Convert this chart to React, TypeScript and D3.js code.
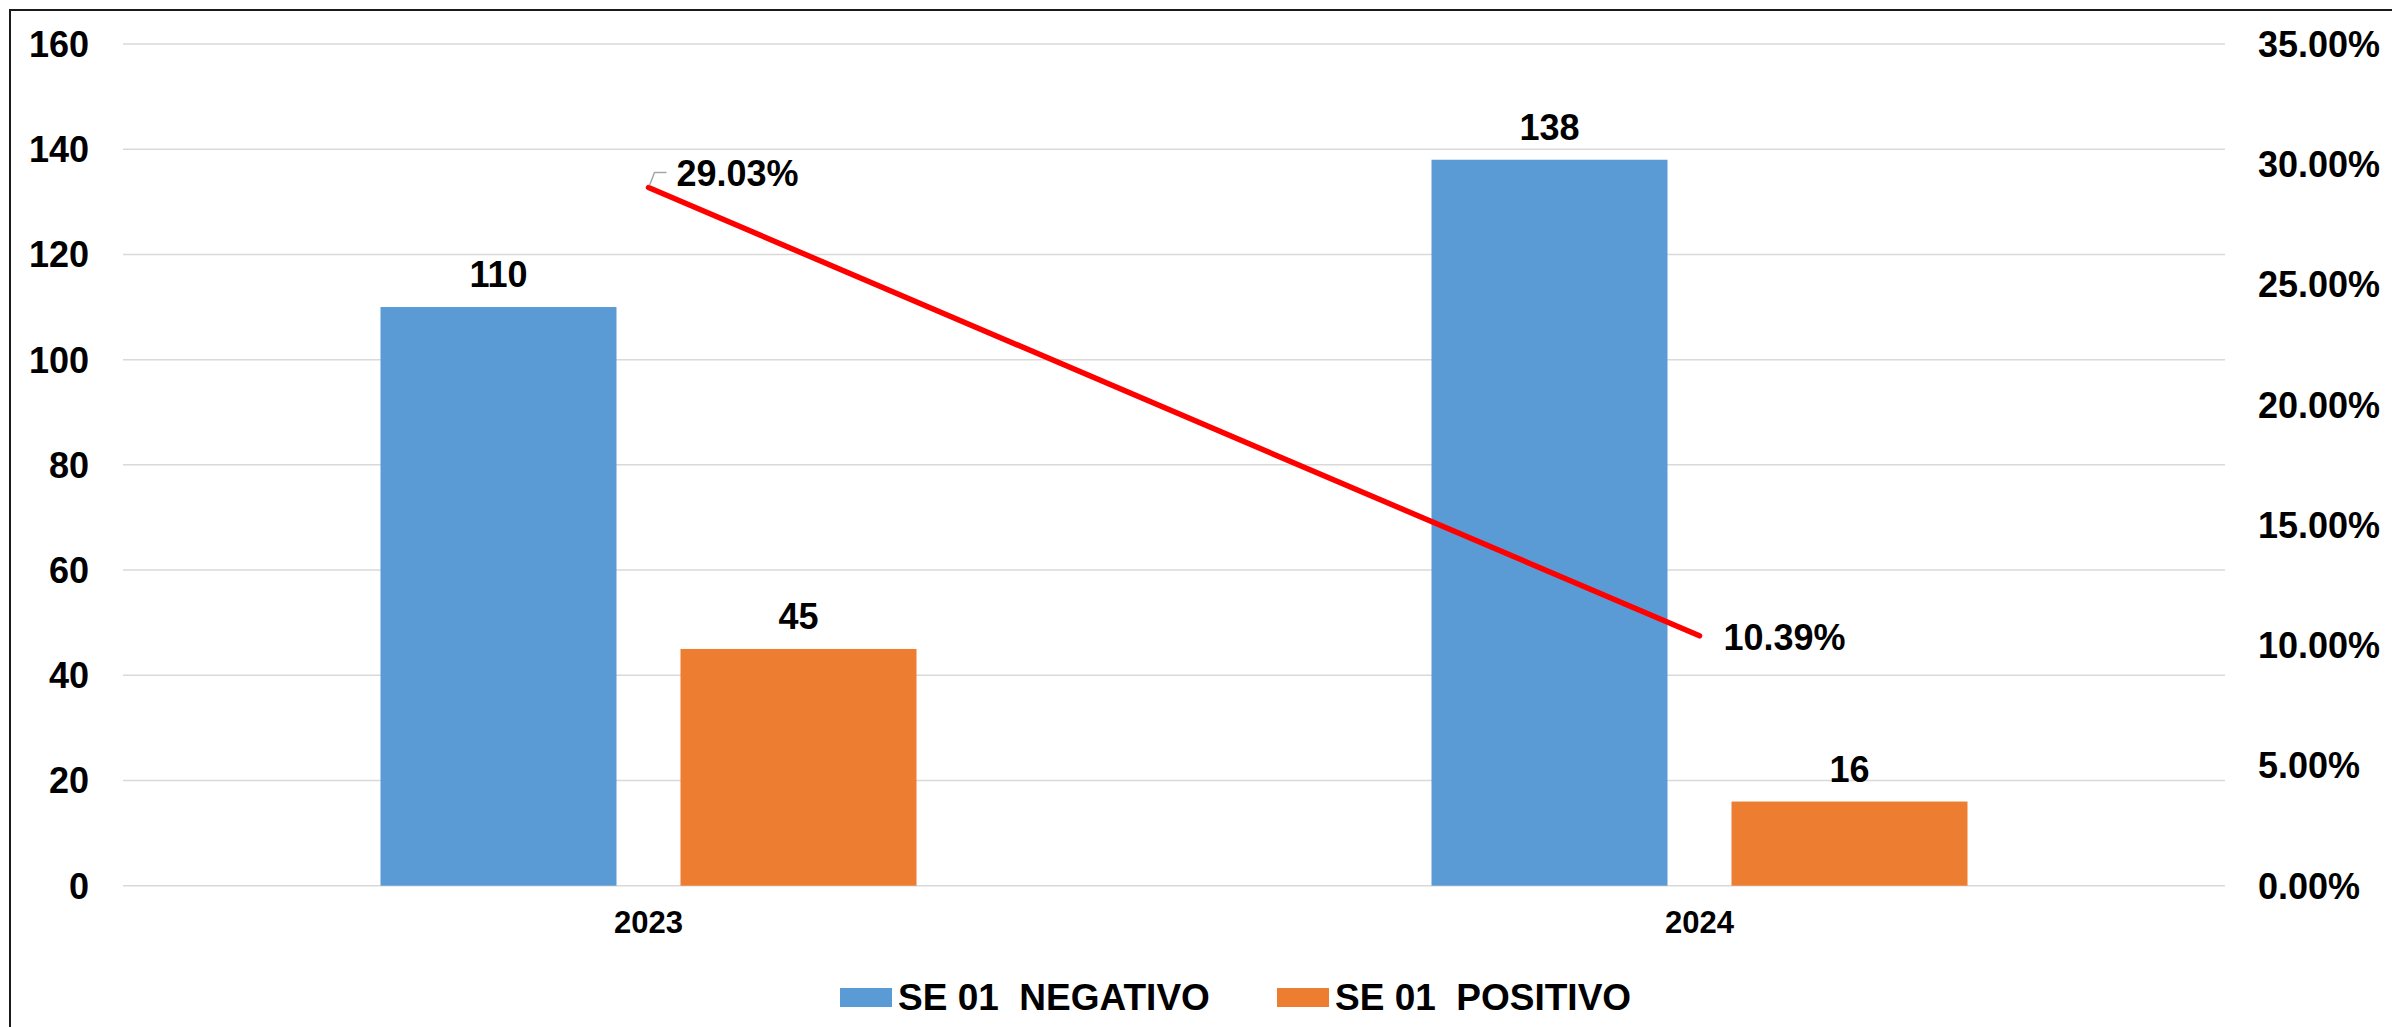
import React from "react";
import * as d3 from "d3";

const categories = ["2023", "2024"];
const seriesNames = ["SE 01  NEGATIVO", "SE 01  POSITIVO"];
const negativo = [110, 138];
const positivo = [45, 16];
const percentages = [0.2903, 0.1039];
const leftTicks = [0, 20, 40, 60, 80, 100, 120, 140, 160];
const rightTicks = [0, 0.05, 0.1, 0.15, 0.2, 0.25, 0.3, 0.35];
const colors = ["#5b9bd5", "#ed7d31"];

const W = 2392;
const H = 1027;
const plotLeft = 123;
const plotRight = 2225;
const plotTop = 44;
const plotBottom = 885.7;
const FONT = "'Liberation Sans', Arial, sans-serif";

export default function App() {
  const x = d3.scaleBand().domain(categories).range([plotLeft, plotRight]).padding(0);
  const groupHalf = x.bandwidth() * (268 / 1051);
  const y = d3.scaleLinear().domain([0, 160]).range([plotBottom, plotTop]);
  const y2 = d3.scaleLinear().domain([0, 0.35]).range([plotBottom, plotTop]);
  const values = [negativo, positivo];

  const line = d3
    .line<number>()
    .x((_, i) => (x(categories[i]) as number) + x.bandwidth() / 2)
    .y((d) => y2(d));

  const pts = percentages.map((p, i) => [
    (x(categories[i]) as number) + x.bandwidth() / 2,
    y2(p),
  ]);

  return (
    <svg
      width={W}
      height={H}
      style={{ position: "absolute", left: 0, top: 0, background: "#fff" }}
      fontFamily={FONT}
    >
      <rect x={0} y={0} width={W} height={H} fill="#fff" />
      <rect x={10} y={10} width={W + 20} height={H + 20} fill="none" stroke="#1a1a1a" strokeWidth={2} />
      {leftTicks.map((t) => (
        <g key={"g" + t}>
          <line x1={plotLeft} x2={plotRight} y1={y(t)} y2={y(t)} stroke="#d9d9d9" strokeWidth={1.5} />
          <text x={89} y={y(t)} dy="0.36em" textAnchor="end" fontSize={36} fontWeight="bold" fill="#000">
            {t}
          </text>
        </g>
      ))}
      {rightTicks.map((t) => (
        <text key={"r" + t} x={2258} y={y2(t)} dy="0.36em" textAnchor="start" fontSize={36} fontWeight="bold" fill="#000">
          {(t * 100).toFixed(2) + "%"}
        </text>
      ))}
      {categories.map((c, ci) => {
        const center = (x(c) as number) + x.bandwidth() / 2;
        const sub = d3
          .scaleBand()
          .domain(seriesNames)
          .range([center - groupHalf, center + groupHalf])
          .paddingInner(0.2133)
          .paddingOuter(0);
        return (
          <g key={c}>
            {seriesNames.map((s, si) => {
              const v = values[si][ci];
              const bx = sub(s) as number;
              return (
                <g key={s}>
                  <rect x={bx} y={y(v)} width={sub.bandwidth()} height={y(0) - y(v)} fill={colors[si]} />
                  <text
                    x={bx + sub.bandwidth() / 2}
                    y={y(v) - 20}
                    textAnchor="middle"
                    fontSize={36}
                    fontWeight="bold"
                    fill="#000"
                  >
                    {v}
                  </text>
                </g>
              );
            })}
            <text x={center} y={933} textAnchor="middle" fontSize={31} fontWeight="bold" fill="#000">
              {c}
            </text>
          </g>
        );
      })}
      <path d={line(percentages) || ""} fill="none" stroke="#ff0000" strokeWidth={5.5} strokeLinecap="round" />
      <polyline
        points={`${pts[0][0] + 1},${pts[0][1] - 2} ${pts[0][0] + 6},${pts[0][1] - 15} ${pts[0][0] + 18},${pts[0][1] - 15}`}
        fill="none"
        stroke="#a6a6a6"
        strokeWidth={1.5}
      />
      <text x={pts[0][0] + 28} y={pts[0][1] - 2} fontSize={36} fontWeight="bold" fill="#000">
        {(percentages[0] * 100).toFixed(2) + "%"}
      </text>
      <text x={pts[1][0] + 24} y={pts[1][1] + 14} fontSize={36} fontWeight="bold" fill="#000">
        {(percentages[1] * 100).toFixed(2) + "%"}
      </text>
      {seriesNames.map((s, i) => {
        const lx = i === 0 ? 840 : 1277;
        return (
          <g key={"l" + s}>
            <rect x={lx} y={988} width={52} height={19} fill={colors[i]} />
            <text x={lx + 58} y={1010} fontSize={37} fontWeight="bold" fill="#000" style={{ whiteSpace: "pre" }}>
              {s}
            </text>
          </g>
        );
      })}
    </svg>
  );
}
